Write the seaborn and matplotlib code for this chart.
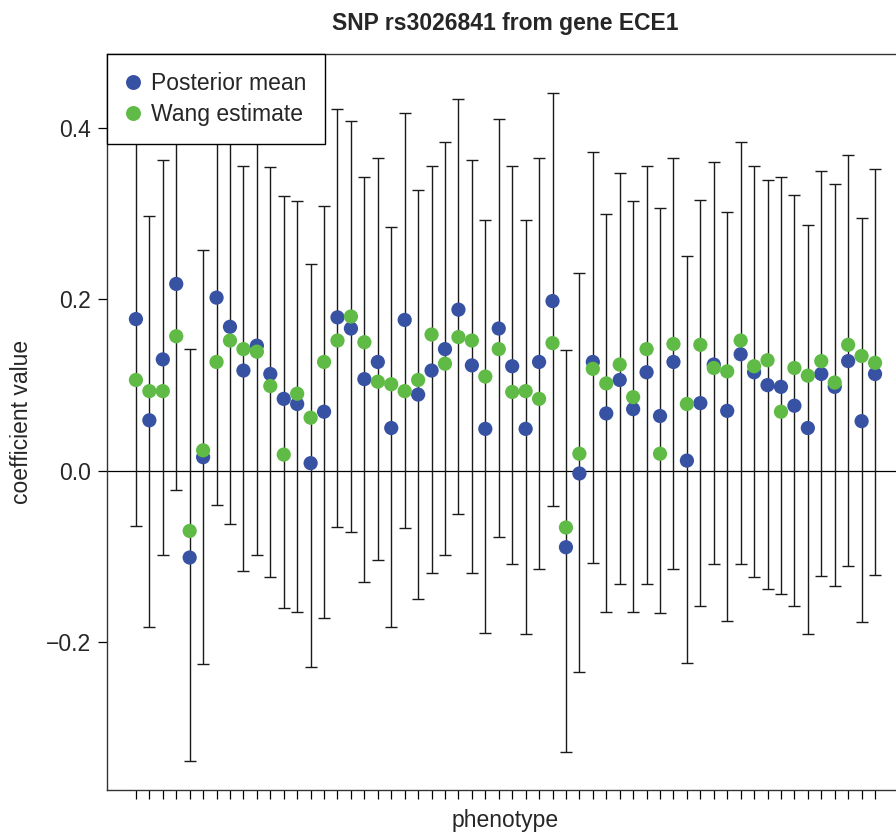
import matplotlib
matplotlib.use("Agg")
import numpy as np
import pandas as pd
import matplotlib.pyplot as plt
import seaborn as sns


# Données (56 phénotypes)
# ***********************************************************************************************

phenotype = list(range(1, 57))

posterior_mean = [0.177, 0.059, 0.130, 0.218, -0.101, 0.016, 0.202, 0.168, 0.117, 0.146,
                  0.113, 0.084, 0.078, 0.009, 0.069, 0.179, 0.166, 0.107, 0.127, 0.050,
                  0.176, 0.089, 0.117, 0.142, 0.188, 0.123, 0.049, 0.166, 0.122, 0.049,
                  0.127, 0.198, -0.089, -0.003, 0.127, 0.067, 0.106, 0.072, 0.115, 0.064,
                  0.127, 0.012, 0.079, 0.124, 0.070, 0.136, 0.115, 0.100, 0.098, 0.076,
                  0.050, 0.113, 0.098, 0.128, 0.058, 0.113]

wang_estimate = [0.106, 0.093, 0.093, 0.157, -0.070, 0.024, 0.127, 0.152, 0.142, 0.139,
                 0.099, 0.019, 0.090, 0.062, 0.127, 0.152, 0.180, 0.150, 0.104, 0.101,
                 0.093, 0.106, 0.159, 0.125, 0.156, 0.152, 0.110, 0.142, 0.092, 0.093,
                 0.084, 0.149, -0.066, 0.020, 0.119, 0.102, 0.124, 0.086, 0.142, 0.020,
                 0.148, 0.078, 0.147, 0.120, 0.116, 0.152, 0.122, 0.129, 0.069, 0.120,
                 0.111, 0.128, 0.103, 0.147, 0.134, 0.126]

ci_lower = [-0.064, -0.182, -0.098, -0.022, -0.338, -0.225, -0.040, -0.062, -0.117, -0.098,
            -0.124, -0.160, -0.164, -0.229, -0.172, -0.065, -0.071, -0.130, -0.104, -0.182,
            -0.066, -0.149, -0.119, -0.098, -0.050, -0.119, -0.189, -0.077, -0.109, -0.190,
            -0.114, -0.041, -0.328, -0.234, -0.107, -0.164, -0.132, -0.164, -0.132, -0.166,
            -0.114, -0.224, -0.157, -0.109, -0.175, -0.109, -0.124, -0.138, -0.143, -0.157,
            -0.190, -0.123, -0.134, -0.111, -0.176, -0.121]

ci_upper = [0.418, 0.297, 0.363, 0.458, 0.142, 0.257, 0.444, 0.398, 0.355, 0.390,
            0.354, 0.321, 0.315, 0.241, 0.309, 0.422, 0.408, 0.343, 0.365, 0.284,
            0.417, 0.327, 0.356, 0.384, 0.434, 0.362, 0.293, 0.410, 0.356, 0.293,
            0.365, 0.441, 0.141, 0.231, 0.372, 0.300, 0.347, 0.315, 0.356, 0.306,
            0.365, 0.251, 0.316, 0.360, 0.302, 0.384, 0.355, 0.339, 0.343, 0.322,
            0.287, 0.350, 0.334, 0.368, 0.295, 0.352]

series_names = ["Posterior mean", "Wang estimate"]
series_colors = ["#3852a3", "#5fbb46"]

y_ticks = [-0.2, 0.0, 0.2, 0.4]
y_tick_labels = ["\u22120.2", "0.0", "0.2", "0.4"]


def generer_figure():
    sns.set_style("ticks")
    plt.rcParams["font.family"] = ["Liberation Sans", "DejaVu Sans"]
    taille = 16.5

    fig = plt.figure(figsize=(8.96, 8.35), dpi=100)
    ax = fig.add_axes([0.119, 0.0539, 0.890, 0.8814])

    # Intervalles autour de la moyenne a posteriori
    moy = np.array(posterior_mean)
    err = [moy - np.array(ci_lower), np.array(ci_upper) - moy]
    ax.errorbar(phenotype, moy, yerr=err, fmt="none", ecolor="#1a1a1a",
                elinewidth=1.0, capsize=4.3, capthick=1.0, zorder=1)

    ax.axhline(0, color="black", linewidth=0.9, zorder=0)

    df = pd.DataFrame({
        "phenotype": phenotype * 2,
        "valeur": posterior_mean + wang_estimate,
        "serie": [series_names[0]] * len(phenotype) + [series_names[1]] * len(phenotype),
    })
    sns.scatterplot(data=df, x="phenotype", y="valeur", hue="serie", hue_order=series_names,
                    palette=series_colors, s=105, edgecolor="none", linewidth=0,
                    ax=ax, zorder=3)

    ax.set_xlim(-1.18, 58.16)
    ax.set_ylim(-0.372, 0.486)
    ax.set_xticks(phenotype)
    ax.set_xticklabels([])
    ax.set_yticks(y_ticks)
    ax.set_yticklabels(y_tick_labels, fontsize=taille)
    ax.tick_params(axis="both", direction="out", length=6.2, width=0.9, color="black")
    ax.tick_params(axis="y", pad=5)

    for s in ax.spines.values():
        s.set_color("#333333")
        s.set_linewidth(1.0)

    ax.set_xlabel("phenotype", fontsize=taille, labelpad=4)
    ax.set_ylabel("coefficient value", fontsize=taille, labelpad=9)
    ax.set_title("SNP rs3026841 from gene ECE1", fontsize=taille, fontweight="bold", pad=17)

    leg = ax.legend(loc="upper left", bbox_to_anchor=(0, 1), borderaxespad=0,
                    fontsize=taille, frameon=True, fancybox=False, framealpha=1,
                    edgecolor="black", handlelength=0.7, handletextpad=0.45,
                    borderpad=0.8, labelspacing=0.32, markerscale=1.05)
    leg.get_frame().set_linewidth(1.0)
    leg.set_zorder(5)

    fig.savefig("out.png", dpi=100)
    plt.close(fig)


if __name__ == "__main__":
    generer_figure()
